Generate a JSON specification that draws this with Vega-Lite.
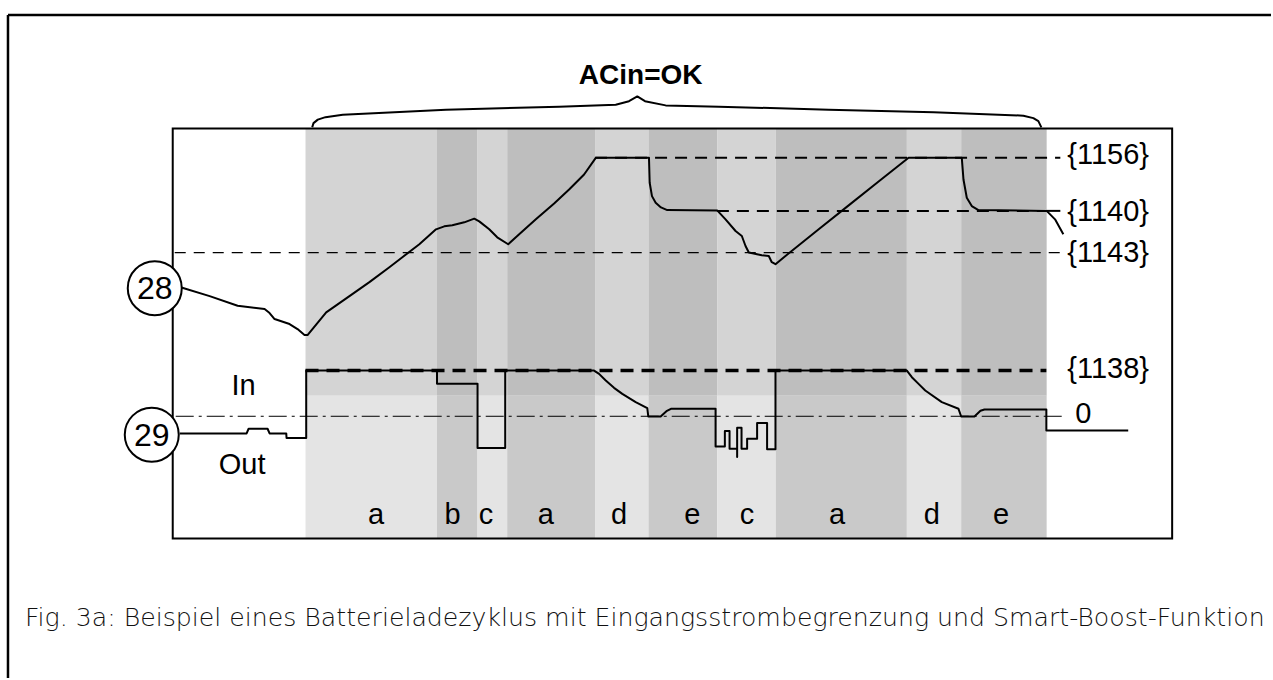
{
  "$schema": "https://vega.github.io/schema/vega-lite/v6.json",
  "width": 1273,
  "height": 680,
  "autosize": {"type": "fit", "contains": "padding"},
  "padding": 0,
  "background": "white",
  "config": {"view": {"stroke": null}},
  "datasets": {
    "bands": [
      {"x0": 306, "x1": 437.7, "y0": 129, "y1": 397, "shade": "lightTop"},
      {"x0": 306, "x1": 437.7, "y0": 397, "y1": 540, "shade": "lightBottom"},
      {"x0": 437.7, "x1": 478.3, "y0": 129, "y1": 397, "shade": "darkTop"},
      {"x0": 437.7, "x1": 478.3, "y0": 397, "y1": 540, "shade": "darkBottom"},
      {"x0": 478.3, "x1": 508, "y0": 129, "y1": 397, "shade": "lightTop"},
      {"x0": 478.3, "x1": 508, "y0": 397, "y1": 540, "shade": "lightBottom"},
      {"x0": 508, "x1": 596, "y0": 129, "y1": 397, "shade": "darkTop"},
      {"x0": 508, "x1": 596, "y0": 397, "y1": 540, "shade": "darkBottom"},
      {"x0": 596, "x1": 649.5, "y0": 129, "y1": 397, "shade": "lightTop"},
      {"x0": 596, "x1": 649.5, "y0": 397, "y1": 540, "shade": "lightBottom"},
      {"x0": 649.5, "x1": 718.3, "y0": 129, "y1": 397, "shade": "darkTop"},
      {"x0": 649.5, "x1": 718.3, "y0": 397, "y1": 540, "shade": "darkBottom"},
      {"x0": 718.3, "x1": 777, "y0": 129, "y1": 397, "shade": "lightTop"},
      {"x0": 718.3, "x1": 777, "y0": 397, "y1": 540, "shade": "lightBottom"},
      {"x0": 777, "x1": 908.3, "y0": 129, "y1": 397, "shade": "darkTop"},
      {"x0": 777, "x1": 908.3, "y0": 397, "y1": 540, "shade": "darkBottom"},
      {"x0": 908.3, "x1": 962.7, "y0": 129, "y1": 397, "shade": "lightTop"},
      {"x0": 908.3, "x1": 962.7, "y0": 397, "y1": 540, "shade": "lightBottom"},
      {"x0": 962.7, "x1": 1048.3, "y0": 129, "y1": 397, "shade": "darkTop"},
      {"x0": 962.7, "x1": 1048.3, "y0": 397, "y1": 540, "shade": "darkBottom"}
    ],
    "box": [{"x0": 173, "x1": 1174, "y0": 129, "y1": 540}],
    "outer": [
      {"x0": 8, "x1": 1273, "y0": 15, "y1": 15},
      {"x0": 8, "x1": 8, "y0": 15, "y1": 680}
    ],
    "dashMed": [
      {"x0": 596, "x1": 1062, "y": 158.3},
      {"x0": 718, "x1": 1048, "y": 211.5}
    ],
    "solidShort": [
      {"x0": 1048, "x1": 1062, "y": 211.5}
    ],
    "dashThin": [
      {"x0": 175, "x1": 1062, "y": 253.3}
    ],
    "dashBold": [
      {"x0": 306, "x1": 1048, "y": 371.7}
    ],
    "dashDot": [
      {"x0": 176, "x1": 1067, "y": 417.5}
    ],
    "curves": [
      {"k": "28", "i": 1, "t": 181.7, "v": 288.3},
      {"k": "28", "i": 2, "t": 210, "v": 297},
      {"k": "28", "i": 3, "t": 238, "v": 306.7},
      {"k": "28", "i": 4, "t": 265, "v": 310},
      {"k": "28", "i": 5, "t": 270, "v": 314},
      {"k": "28", "i": 6, "t": 275, "v": 320},
      {"k": "28", "i": 7, "t": 290, "v": 325},
      {"k": "28", "i": 8, "t": 298, "v": 330},
      {"k": "28", "i": 9, "t": 305, "v": 336},
      {"k": "28", "i": 10, "t": 308, "v": 336},
      {"k": "28", "i": 11, "t": 326.7, "v": 313.3},
      {"k": "28", "i": 12, "t": 350, "v": 297},
      {"k": "28", "i": 13, "t": 370, "v": 283},
      {"k": "28", "i": 14, "t": 390, "v": 268},
      {"k": "28", "i": 15, "t": 403, "v": 258},
      {"k": "28", "i": 16, "t": 420, "v": 245},
      {"k": "28", "i": 17, "t": 436.7, "v": 230},
      {"k": "28", "i": 18, "t": 445, "v": 227},
      {"k": "28", "i": 19, "t": 453, "v": 226},
      {"k": "28", "i": 20, "t": 465, "v": 223},
      {"k": "28", "i": 21, "t": 475, "v": 219.3},
      {"k": "28", "i": 22, "t": 480, "v": 222},
      {"k": "28", "i": 23, "t": 490, "v": 230},
      {"k": "28", "i": 24, "t": 498, "v": 238},
      {"k": "28", "i": 25, "t": 509, "v": 245},
      {"k": "28", "i": 26, "t": 520, "v": 235},
      {"k": "28", "i": 27, "t": 536.7, "v": 220},
      {"k": "28", "i": 28, "t": 555, "v": 204},
      {"k": "28", "i": 29, "t": 570, "v": 190},
      {"k": "28", "i": 30, "t": 585, "v": 175},
      {"k": "28", "i": 31, "t": 596.7, "v": 158.3},
      {"k": "28", "i": 32, "t": 650, "v": 158.3},
      {"k": "28", "i": 33, "t": 650.7, "v": 183.3},
      {"k": "28", "i": 34, "t": 653, "v": 196.7},
      {"k": "28", "i": 35, "t": 656.7, "v": 203.3},
      {"k": "28", "i": 36, "t": 662, "v": 208},
      {"k": "28", "i": 37, "t": 668.3, "v": 210.7},
      {"k": "28", "i": 38, "t": 718.3, "v": 211},
      {"k": "28", "i": 39, "t": 726.7, "v": 220},
      {"k": "28", "i": 40, "t": 736.7, "v": 231.7},
      {"k": "28", "i": 41, "t": 743, "v": 236.7},
      {"k": "28", "i": 42, "t": 746.7, "v": 246.7},
      {"k": "28", "i": 43, "t": 750, "v": 253.3},
      {"k": "28", "i": 44, "t": 763, "v": 256},
      {"k": "28", "i": 45, "t": 770, "v": 256.7},
      {"k": "28", "i": 46, "t": 773, "v": 263},
      {"k": "28", "i": 47, "t": 776.7, "v": 265},
      {"k": "28", "i": 48, "t": 786.7, "v": 256.7},
      {"k": "28", "i": 49, "t": 820, "v": 230},
      {"k": "28", "i": 50, "t": 850, "v": 206},
      {"k": "28", "i": 51, "t": 880, "v": 182},
      {"k": "28", "i": 52, "t": 910, "v": 158.3},
      {"k": "28", "i": 53, "t": 963.3, "v": 158.3},
      {"k": "28", "i": 54, "t": 965, "v": 180},
      {"k": "28", "i": 55, "t": 968.3, "v": 198.3},
      {"k": "28", "i": 56, "t": 973.3, "v": 206.7},
      {"k": "28", "i": 57, "t": 980, "v": 210.7},
      {"k": "28", "i": 58, "t": 1048.3, "v": 211.5},
      {"k": "28", "i": 59, "t": 1056.7, "v": 220},
      {"k": "28", "i": 60, "t": 1065, "v": 235},
      {"k": "29", "i": 1, "t": 180, "v": 434.7},
      {"k": "29", "i": 2, "t": 247, "v": 434.7},
      {"k": "29", "i": 3, "t": 249, "v": 430},
      {"k": "29", "i": 4, "t": 268, "v": 430},
      {"k": "29", "i": 5, "t": 270, "v": 434.7},
      {"k": "29", "i": 6, "t": 286.7, "v": 434.7},
      {"k": "29", "i": 7, "t": 287, "v": 439.3},
      {"k": "29", "i": 8, "t": 306.7, "v": 439.3},
      {"k": "29", "i": 9, "t": 306.7, "v": 371.7},
      {"k": "29", "i": 10, "t": 437.7, "v": 371.7},
      {"k": "29", "i": 11, "t": 437.7, "v": 385},
      {"k": "29", "i": 12, "t": 478.3, "v": 385},
      {"k": "29", "i": 13, "t": 478.3, "v": 449.3},
      {"k": "29", "i": 14, "t": 506, "v": 449.3},
      {"k": "29", "i": 15, "t": 506, "v": 371.7},
      {"k": "29", "i": 16, "t": 595, "v": 371.7},
      {"k": "29", "i": 17, "t": 600, "v": 375},
      {"k": "29", "i": 18, "t": 606.7, "v": 381.7},
      {"k": "29", "i": 19, "t": 615, "v": 389},
      {"k": "29", "i": 20, "t": 623.3, "v": 395},
      {"k": "29", "i": 21, "t": 636.7, "v": 403.3},
      {"k": "29", "i": 22, "t": 648.3, "v": 409.3},
      {"k": "29", "i": 23, "t": 649.3, "v": 417.7},
      {"k": "29", "i": 24, "t": 661.7, "v": 417.7},
      {"k": "29", "i": 25, "t": 668, "v": 412},
      {"k": "29", "i": 26, "t": 672, "v": 410},
      {"k": "29", "i": 27, "t": 716.7, "v": 410},
      {"k": "29", "i": 28, "t": 716.7, "v": 447.7},
      {"k": "29", "i": 29, "t": 726, "v": 447.7},
      {"k": "29", "i": 30, "t": 726, "v": 432.3},
      {"k": "29", "i": 31, "t": 730.7, "v": 432.3},
      {"k": "29", "i": 32, "t": 730.7, "v": 450},
      {"k": "29", "i": 33, "t": 738.3, "v": 450},
      {"k": "29", "i": 34, "t": 738.3, "v": 458.3},
      {"k": "29", "i": 35, "t": 738.3, "v": 429},
      {"k": "29", "i": 36, "t": 742.7, "v": 429},
      {"k": "29", "i": 37, "t": 742.7, "v": 450},
      {"k": "29", "i": 38, "t": 748.3, "v": 450},
      {"k": "29", "i": 39, "t": 748.3, "v": 440},
      {"k": "29", "i": 40, "t": 758.3, "v": 440},
      {"k": "29", "i": 41, "t": 758.3, "v": 424.3},
      {"k": "29", "i": 42, "t": 768.3, "v": 424.3},
      {"k": "29", "i": 43, "t": 768.3, "v": 450.7},
      {"k": "29", "i": 44, "t": 776.7, "v": 450.7},
      {"k": "29", "i": 45, "t": 776.7, "v": 371.7},
      {"k": "29", "i": 46, "t": 908.3, "v": 371.7},
      {"k": "29", "i": 47, "t": 913.3, "v": 378.3},
      {"k": "29", "i": 48, "t": 920, "v": 385},
      {"k": "29", "i": 49, "t": 926.7, "v": 391.7},
      {"k": "29", "i": 50, "t": 943.3, "v": 403.3},
      {"k": "29", "i": 51, "t": 960, "v": 410},
      {"k": "29", "i": 52, "t": 962.7, "v": 417.7},
      {"k": "29", "i": 53, "t": 976, "v": 417.7},
      {"k": "29", "i": 54, "t": 982, "v": 412},
      {"k": "29", "i": 55, "t": 986, "v": 410.7},
      {"k": "29", "i": 56, "t": 1048, "v": 410.7},
      {"k": "29", "i": 57, "t": 1048, "v": 431.7},
      {"k": "29", "i": 58, "t": 1130, "v": 431.7},
      {"k": "brace", "i": 1, "t": 312.7, "v": 127.7},
      {"k": "brace", "i": 2, "t": 314, "v": 123.5},
      {"k": "brace", "i": 3, "t": 318.3, "v": 120},
      {"k": "brace", "i": 4, "t": 326, "v": 117.5},
      {"k": "brace", "i": 5, "t": 343.3, "v": 115},
      {"k": "brace", "i": 6, "t": 446.7, "v": 110},
      {"k": "brace", "i": 7, "t": 560, "v": 107},
      {"k": "brace", "i": 8, "t": 616.7, "v": 105},
      {"k": "brace", "i": 9, "t": 630, "v": 101.5},
      {"k": "brace", "i": 10, "t": 638.3, "v": 96.7},
      {"k": "brace", "i": 11, "t": 646, "v": 101.5},
      {"k": "brace", "i": 12, "t": 666.7, "v": 105.7},
      {"k": "brace", "i": 13, "t": 720, "v": 107},
      {"k": "brace", "i": 14, "t": 830, "v": 110},
      {"k": "brace", "i": 15, "t": 935, "v": 112.5},
      {"k": "brace", "i": 16, "t": 1025, "v": 116},
      {"k": "brace", "i": 17, "t": 1035, "v": 118.5},
      {"k": "brace", "i": 18, "t": 1040, "v": 121.5},
      {"k": "brace", "i": 19, "t": 1043, "v": 127.7}
    ],
    "circles": [
      {"t": 155, "v": 289, "label": "28"},
      {"t": 152, "v": 436, "label": "29"}
    ],
    "centerTexts": [
      {"t": 244, "v": 387, "label": "In"},
      {"t": 242.5, "v": 466, "label": "Out"},
      {"t": 376.7, "v": 517, "label": "a"},
      {"t": 453.3, "v": 517, "label": "b"},
      {"t": 486.7, "v": 517, "label": "c"},
      {"t": 546.7, "v": 517, "label": "a"},
      {"t": 620, "v": 517, "label": "d"},
      {"t": 693.3, "v": 517, "label": "e"},
      {"t": 748.3, "v": 517, "label": "c"},
      {"t": 838.3, "v": 517, "label": "a"},
      {"t": 933.3, "v": 517, "label": "d"},
      {"t": 1002.7, "v": 517, "label": "e"}
    ],
    "rightTexts": [
      {"t": 1069, "v": 155, "label": "{1156}"},
      {"t": 1069, "v": 213, "label": "{1140}"},
      {"t": 1069, "v": 253.3, "label": "{1143}"},
      {"t": 1069, "v": 370, "label": "{1138}"},
      {"t": 1077, "v": 415, "label": "0"}
    ],
    "title": [{"t": 641.7, "v": 76.7, "label": "ACin=OK"}],
    "caption": [{"t": 25, "v": 620, "label": "Fig. 3a: Beispiel eines Batterieladezyklus mit Eingangsstrombegrenzung und Smart-Boost-Funktion"}]
  },
  "layer": [
    {
      "data": {"name": "bands"},
      "mark": {"type": "rect"},
      "encoding": {
        "x": {"field": "x0", "type": "quantitative", "scale": {"domain": [0, 1273], "nice": false, "zero": false}, "axis": null},
        "x2": {"field": "x1"},
        "y": {"field": "y0", "type": "quantitative", "scale": {"domain": [0, 680], "nice": false, "zero": false, "reverse": true}, "axis": null},
        "y2": {"field": "y1"},
        "color": {"field": "shade", "type": "nominal", "legend": null,
          "scale": {"domain": ["lightTop", "lightBottom", "darkTop", "darkBottom"], "range": ["#d4d4d4", "#e4e4e4", "#bebebe", "#c9c9c9"]}}
      }
    },
    {
      "data": {"name": "box"},
      "mark": {"type": "rect", "fillOpacity": 0, "stroke": "black", "strokeWidth": 2},
      "encoding": {
        "x": {"field": "x0", "type": "quantitative"},
        "x2": {"field": "x1"},
        "y": {"field": "y0", "type": "quantitative"},
        "y2": {"field": "y1"}
      }
    },
    {
      "data": {"name": "outer"},
      "mark": {"type": "rule", "stroke": "black", "strokeWidth": 2.5},
      "encoding": {
        "x": {"field": "x0", "type": "quantitative"},
        "x2": {"field": "x1"},
        "y": {"field": "y0", "type": "quantitative"},
        "y2": {"field": "y1"}
      }
    },
    {
      "data": {"name": "dashMed"},
      "mark": {"type": "rule", "stroke": "black", "strokeWidth": 2, "strokeDash": [12, 8]},
      "encoding": {
        "x": {"field": "x0", "type": "quantitative"},
        "x2": {"field": "x1"},
        "y": {"field": "y", "type": "quantitative"}
      }
    },
    {
      "data": {"name": "solidShort"},
      "mark": {"type": "rule", "stroke": "black", "strokeWidth": 2},
      "encoding": {
        "x": {"field": "x0", "type": "quantitative"},
        "x2": {"field": "x1"},
        "y": {"field": "y", "type": "quantitative"}
      }
    },
    {
      "data": {"name": "dashThin"},
      "mark": {"type": "rule", "stroke": "black", "strokeWidth": 1.2, "strokeDash": [11, 8]},
      "encoding": {
        "x": {"field": "x0", "type": "quantitative"},
        "x2": {"field": "x1"},
        "y": {"field": "y", "type": "quantitative"}
      }
    },
    {
      "data": {"name": "dashBold"},
      "mark": {"type": "rule", "stroke": "black", "strokeWidth": 3.5, "strokeDash": [13, 8]},
      "encoding": {
        "x": {"field": "x0", "type": "quantitative"},
        "x2": {"field": "x1"},
        "y": {"field": "y", "type": "quantitative"}
      }
    },
    {
      "data": {"name": "dashDot"},
      "mark": {"type": "rule", "stroke": "black", "strokeWidth": 1, "strokeDash": [18, 5, 3, 5]},
      "encoding": {
        "x": {"field": "x0", "type": "quantitative"},
        "x2": {"field": "x1"},
        "y": {"field": "y", "type": "quantitative"}
      }
    },
    {
      "data": {"name": "curves"},
      "mark": {"type": "line", "stroke": "black", "strokeWidth": 2, "strokeJoin": "round"},
      "encoding": {
        "x": {"field": "t", "type": "quantitative"},
        "y": {"field": "v", "type": "quantitative"},
        "detail": {"field": "k", "type": "nominal"},
        "order": {"field": "i", "type": "quantitative"}
      }
    },
    {
      "data": {"name": "circles"},
      "mark": {"type": "point", "shape": "circle", "size": 2916, "filled": true, "fill": "white", "stroke": "black", "strokeWidth": 2, "opacity": 1},
      "encoding": {
        "x": {"field": "t", "type": "quantitative"},
        "y": {"field": "v", "type": "quantitative"}
      }
    },
    {
      "data": {"name": "circles"},
      "mark": {"type": "text", "font": "Liberation Sans", "fontSize": 32, "align": "center", "baseline": "middle", "color": "black", "dy": 1},
      "encoding": {
        "x": {"field": "t", "type": "quantitative"},
        "y": {"field": "v", "type": "quantitative"},
        "text": {"field": "label"}
      }
    },
    {
      "data": {"name": "centerTexts"},
      "mark": {"type": "text", "font": "Liberation Sans", "fontSize": 29, "align": "center", "baseline": "middle", "color": "black"},
      "encoding": {
        "x": {"field": "t", "type": "quantitative"},
        "y": {"field": "v", "type": "quantitative"},
        "text": {"field": "label"}
      }
    },
    {
      "data": {"name": "rightTexts"},
      "mark": {"type": "text", "font": "Liberation Sans", "fontSize": 29, "align": "left", "baseline": "middle", "color": "black"},
      "encoding": {
        "x": {"field": "t", "type": "quantitative"},
        "y": {"field": "v", "type": "quantitative"},
        "text": {"field": "label"}
      }
    },
    {
      "data": {"name": "title"},
      "mark": {"type": "text", "font": "Liberation Sans", "fontSize": 28, "fontWeight": "bold", "align": "center", "baseline": "middle", "color": "black"},
      "encoding": {
        "x": {"field": "t", "type": "quantitative"},
        "y": {"field": "v", "type": "quantitative"},
        "text": {"field": "label"}
      }
    },
    {
      "data": {"name": "caption"},
      "mark": {"type": "text", "font": "DejaVu Sans", "fontSize": 25.2, "fontWeight": 300, "align": "left", "baseline": "middle", "color": "#111111"},
      "encoding": {
        "x": {"field": "t", "type": "quantitative"},
        "y": {"field": "v", "type": "quantitative"},
        "text": {"field": "label"}
      }
    }
  ]
}
